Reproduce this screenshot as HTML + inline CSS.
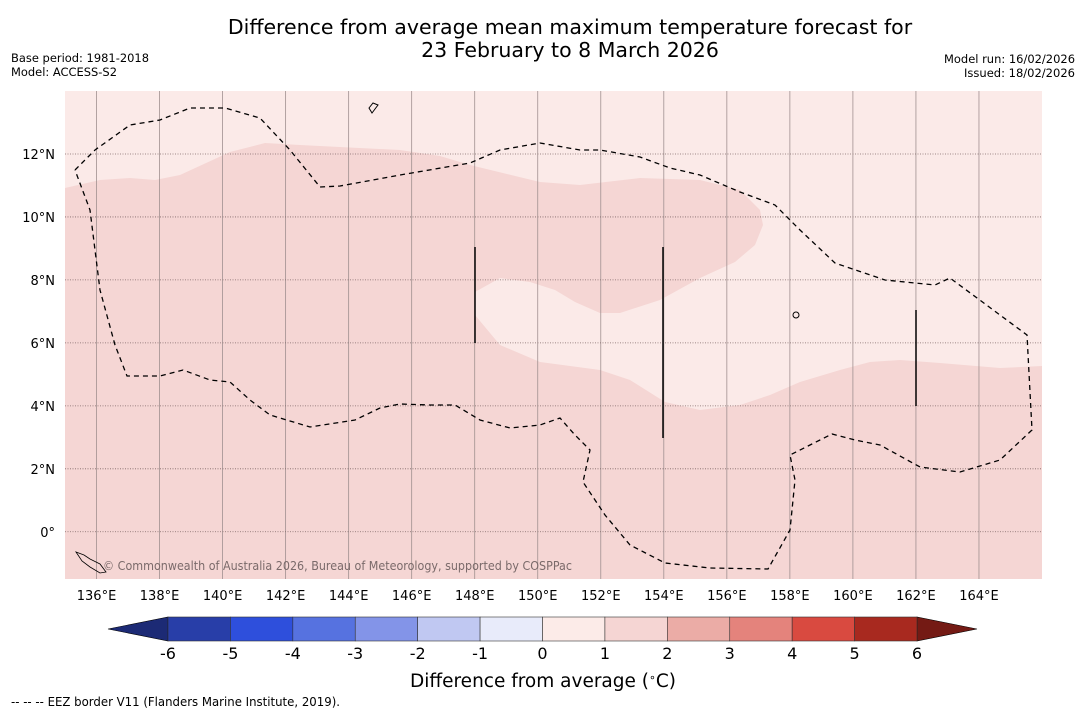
<!DOCTYPE html>
<html><head><meta charset="utf-8">
<style>
body{margin:0;background:#fff;width:1085px;height:713px;overflow:hidden;font-family:"DejaVu Sans","Liberation Sans",sans-serif;}
svg text{font-family:"DejaVu Sans","Liberation Sans",sans-serif;}
</style></head><body>
<svg id="c" width="1085" height="713">
<text x="570" y="34" font-size="20.5" text-anchor="middle">Difference from average mean maximum temperature forecast for</text>
<text x="570" y="57" font-size="20.5" text-anchor="middle">23 February to 8 March 2026</text>
<text x="11" y="62" font-size="11.5" textLength="138" lengthAdjust="spacingAndGlyphs">Base period: 1981-2018</text>
<text x="11" y="76" font-size="11.5" textLength="106" lengthAdjust="spacingAndGlyphs">Model: ACCESS-S2</text>
<text x="1075" y="63" font-size="11.5" text-anchor="end" textLength="131" lengthAdjust="spacingAndGlyphs">Model run: 16/02/2026</text>
<text x="1075" y="77" font-size="11.5" text-anchor="end" textLength="111" lengthAdjust="spacingAndGlyphs">Issued: 18/02/2026</text>
<g id="map">
<rect x="65" y="91" width="977" height="488" fill="#f5d6d4"/>
<path fill="#fbeae8" d="M65,188 L100,180 130,178 155,180 180,175 230,152 265,143 300,145 400,150 440,156 470,165 540,182 580,185 640,178 700,180 740,190 760,210 763,225 755,245 735,262 700,278 660,300 620,313 600,313 575,302 555,290 530,282 500,278 475,292 475,315 500,345 540,362 600,370 630,380 665,402 700,410 740,405 770,395 800,382 840,370 870,362 900,360 940,363 1000,368 1042,366 1042,91 65,91Z"/>
<g id="grid"></g>
<path fill="none" stroke="#000" stroke-width="1.3" stroke-dasharray="5,4" d="M75,170 L95,150 130,125 160,120 190,108 225,108 260,118 290,150 320,187 340,186 400,175 470,163 500,150 540,143 580,150 600,150 640,157 670,168 700,175 740,192 775,205 800,230 835,263 885,280 935,285 950,278 1000,315 1027,335 1032,430 1000,460 960,472 920,467 880,445 855,440 832,434 810,445 790,455 795,480 790,530 768,569 710,568 665,563 630,545 605,515 583,482 590,450 575,435 560,418 540,425 510,428 480,420 455,405 430,405 400,404 380,408 355,420 310,427 270,415 250,400 230,382 210,380 183,370 160,376 127,376 115,345 100,290 90,210 75,170"/>
<line x1="475" y1="247" x2="475" y2="343" stroke="#000" stroke-width="1.5"/>
<line x1="663" y1="247" x2="663" y2="438" stroke="#000" stroke-width="1.5"/>
<line x1="916" y1="310" x2="916" y2="406" stroke="#000" stroke-width="1.5"/>
<path d="M76,552 l8,3 6,4 10,5 6,8 -6,1 -10,-6 -8,-6z" fill="none" stroke="#000" stroke-width="0.8"/>
<circle cx="796" cy="315" r="3" fill="none" stroke="#000"/>
<path d="M369,108 l4,-5 5,2 -3,4 -3,4z" fill="none" stroke="#000"/>
<text x="103" y="570" font-size="12" fill="#7a6a6a" textLength="469" lengthAdjust="spacingAndGlyphs">© Commonwealth of Australia 2026, Bureau of Meteorology, supported by COSPPac</text>
</g>
<g id="axes"></g>
<g id="cbar"></g>
<text x="543" y="687" font-size="18.5" text-anchor="middle">Difference from average (<tspan baseline-shift="super" font-size="11">∘</tspan>C)</text>
<text x="11" y="706" font-size="12" textLength="329" lengthAdjust="spacingAndGlyphs">--  --  -- EEZ border V11 (Flanders Marine Institute, 2019).</text>
</svg>
<script>
const lonTicks=[136,138,140,142,144,146,148,150,152,154,156,158,160,162,164];
const latTicks=[0,2,4,6,8,10,12];
const cbLevels=[-6,-5,-4,-3,-2,-1,0,1,2,3,4,5,6];
const cbColors=["#283ea8","#2e4fdc","#5672e0","#8394e8","#c0c8f2","#e8ebfa","#fcebe8","#f5d5d3","#ebaca6","#e4837c","#d94a40","#a8291f"];
const lowColor="#1c2a75", highColor="#741a14";
const ns="http://www.w3.org/2000/svg";
const X0=65,X1=1042,Y0=91,Y1=579,LON0=135,LON1=166,LAT0=-1.5,LAT1=14;
const xLon=v=>X0+(v-LON0)/(LON1-LON0)*(X1-X0);
const yLat=v=>Y1-(v-LAT0)/(LAT1-LAT0)*(Y1-Y0);
function mk(t,a,p){const e=document.createElementNS(ns,t);for(const k in a)e.setAttribute(k,a[k]);p.appendChild(e);return e;}
const grid=document.getElementById('grid'),axes=document.getElementById('axes'),cb=document.getElementById('cbar');
lonTicks.forEach(v=>{
 const l=mk('line',{x1:xLon(v),x2:xLon(v),y1:Y0,y2:Y1,stroke:'#a09090','stroke-width':0.8},grid);
 
 
 const t=mk('text',{x:xLon(v),y:600,'font-size':13,'text-anchor':'middle'},axes);t.textContent=v+'°E';
 
 
});
latTicks.forEach(v=>{
 const l=mk('line',{x1:X0,x2:X1,y1:yLat(v),y2:yLat(v),stroke:'#806868','stroke-width':0.8,'stroke-dasharray':'1,1.5'},grid);
 
 
 const t=mk('text',{x:55,y:yLat(v)+5,'font-size':13,'text-anchor':'end'},axes);t.textContent=v===0?'0°':v+'°N';
 
 
});
const cx0=168,cx1=917,cy=617,ch=24;
const cX=v=>cx0+(v-cbLevels[0])/(cbLevels[cbLevels.length-1]-cbLevels[0])*(cx1-cx0);
const lo=mk('polygon',{points:`108,${cy+ch/2} ${cx0},${cy} ${cx0},${cy+ch}`,fill:lowColor,stroke:'#000','stroke-width':0.6},cb);


const hi=mk('polygon',{points:`977,${cy+ch/2} ${cx1},${cy} ${cx1},${cy+ch}`,fill:highColor,stroke:'#000','stroke-width':0.6},cb);


cbColors.forEach((c,i)=>{
 const r=mk('rect',{x:cX(cbLevels[i]),y:cy,width:cX(cbLevels[i+1])-cX(cbLevels[i]),height:ch,fill:c,stroke:'#333','stroke-width':0.6},cb);
 
 
});
cbLevels.forEach(v=>{
 const t=mk('text',{x:cX(v),y:659,'font-size':16,'text-anchor':'middle'},cb);t.textContent=v;
 
 
});
</script>
</body></html>
